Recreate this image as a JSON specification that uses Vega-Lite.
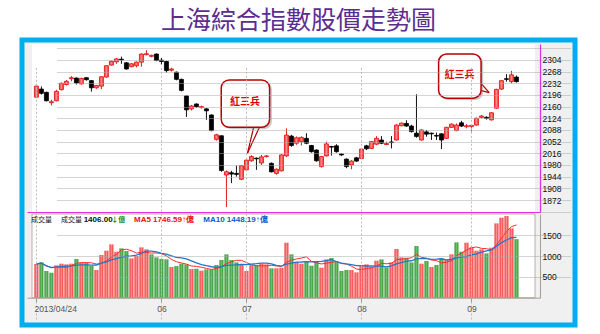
{
  "$schema": "https://vega.github.io/schema/vega-lite/v6.json",
  "width": 553,
  "height": 285,
  "autosize": {"type": "none"},
  "padding": {"left": 22, "top": 40, "right": 25, "bottom": 9},
  "background": "white",
  "title": {"text": "上海綜合指數股價走勢圖", "font": "Noto Sans CJK TC", "fontSize": 25, "fontWeight": "normal", "color": "#5b2d90", "anchor": "middle", "offset": 6},
  "config": {
    "view": {"fill": "#f0f0f0", "stroke": "#00aeef", "strokeWidth": 5},
    "axis": {"labelOverlap": false, "labelBound": false, "labelFlush": false}
  },
  "datasets": {
    "k": [
      {"d": "2013-04-24", "o": 2189, "h": 2230, "l": 2186, "c": 2223, "v": 809},
      {"d": "2013-04-25", "o": 2214, "h": 2222, "l": 2197, "c": 2201, "v": 849},
      {"d": "2013-04-26", "o": 2204, "h": 2206, "l": 2176, "c": 2178, "v": 641},
      {"d": "2013-05-02", "o": 2172, "h": 2181, "l": 2164, "c": 2175, "v": 600},
      {"d": "2013-05-03", "o": 2178, "h": 2212, "l": 2176, "c": 2207, "v": 778},
      {"d": "2013-05-06", "o": 2212, "h": 2234, "l": 2210, "c": 2232, "v": 817},
      {"d": "2013-05-07", "o": 2228, "h": 2242, "l": 2225, "c": 2238, "v": 801},
      {"d": "2013-05-08", "o": 2246, "h": 2254, "l": 2238, "c": 2249, "v": 817},
      {"d": "2013-05-09", "o": 2248, "h": 2250, "l": 2228, "c": 2233, "v": 929},
      {"d": "2013-05-10", "o": 2230, "h": 2249, "l": 2228, "c": 2247, "v": 841},
      {"d": "2013-05-13", "o": 2249, "h": 2251, "l": 2240, "c": 2243, "v": 833},
      {"d": "2013-05-14", "o": 2240, "h": 2242, "l": 2206, "c": 2218, "v": 769},
      {"d": "2013-05-15", "o": 2218, "h": 2227, "l": 2215, "c": 2225, "v": 665},
      {"d": "2013-05-16", "o": 2223, "h": 2254, "l": 2214, "c": 2252, "v": 1025},
      {"d": "2013-05-17", "o": 2251, "h": 2288, "l": 2249, "c": 2286, "v": 1129},
      {"d": "2013-05-20", "o": 2288, "h": 2302, "l": 2286, "c": 2300, "v": 1281},
      {"d": "2013-05-21", "o": 2298, "h": 2310, "l": 2292, "c": 2307, "v": 1105},
      {"d": "2013-05-22", "o": 2306, "h": 2314, "l": 2292, "c": 2304, "v": 1185},
      {"d": "2013-05-23", "o": 2295, "h": 2297, "l": 2274, "c": 2276, "v": 1121},
      {"d": "2013-05-24", "o": 2283, "h": 2294, "l": 2281, "c": 2292, "v": 945},
      {"d": "2013-05-27", "o": 2286, "h": 2299, "l": 2281, "c": 2297, "v": 1001},
      {"d": "2013-05-28", "o": 2297, "h": 2324, "l": 2283, "c": 2322, "v": 1209},
      {"d": "2013-05-29", "o": 2320, "h": 2334, "l": 2318, "c": 2323, "v": 1161},
      {"d": "2013-05-30", "o": 2315, "h": 2320, "l": 2312, "c": 2318, "v": 1041},
      {"d": "2013-05-31", "o": 2322, "h": 2324, "l": 2300, "c": 2302, "v": 969},
      {"d": "2013-06-03", "o": 2303, "h": 2310, "l": 2290, "c": 2299, "v": 929},
      {"d": "2013-06-04", "o": 2299, "h": 2301, "l": 2265, "c": 2271, "v": 921},
      {"d": "2013-06-05", "o": 2272, "h": 2280, "l": 2268, "c": 2276, "v": 737},
      {"d": "2013-06-06", "o": 2266, "h": 2268, "l": 2241, "c": 2244, "v": 761},
      {"d": "2013-06-07", "o": 2244, "h": 2246, "l": 2207, "c": 2210, "v": 817},
      {"d": "2013-06-13", "o": 2193, "h": 2195, "l": 2128, "c": 2150, "v": 801},
      {"d": "2013-06-14", "o": 2153, "h": 2165, "l": 2148, "c": 2162, "v": 689},
      {"d": "2013-06-17", "o": 2168, "h": 2170, "l": 2156, "c": 2160, "v": 697},
      {"d": "2013-06-18", "o": 2157, "h": 2163, "l": 2154, "c": 2160, "v": 649},
      {"d": "2013-06-19", "o": 2153, "h": 2155, "l": 2119, "c": 2147, "v": 681},
      {"d": "2013-06-20", "o": 2134, "h": 2136, "l": 2084, "c": 2086, "v": 681},
      {"d": "2013-06-21", "o": 2059, "h": 2076, "l": 2055, "c": 2073, "v": 785},
      {"d": "2013-06-24", "o": 2070, "h": 2071, "l": 1959, "c": 1963, "v": 905},
      {"d": "2013-06-25", "o": 1949, "h": 1963, "l": 1850, "c": 1959, "v": 1041},
      {"d": "2013-06-26", "o": 1956, "h": 1962, "l": 1924, "c": 1952, "v": 905},
      {"d": "2013-06-27", "o": 1954, "h": 1978, "l": 1944, "c": 1951, "v": 849},
      {"d": "2013-06-28", "o": 1936, "h": 1980, "l": 1933, "c": 1978, "v": 785},
      {"d": "2013-07-01", "o": 1965, "h": 1997, "l": 1962, "c": 1995, "v": 641},
      {"d": "2013-07-02", "o": 1993, "h": 2010, "l": 1990, "c": 2006, "v": 785},
      {"d": "2013-07-03", "o": 2001, "h": 2003, "l": 1965, "c": 1999, "v": 785},
      {"d": "2013-07-04", "o": 1986, "h": 2011, "l": 1980, "c": 2005, "v": 817},
      {"d": "2013-07-05", "o": 2006, "h": 2010, "l": 2003, "c": 2008, "v": 801},
      {"d": "2013-07-08", "o": 1985, "h": 1988, "l": 1957, "c": 1959, "v": 705},
      {"d": "2013-07-09", "o": 1954, "h": 1969, "l": 1950, "c": 1967, "v": 705},
      {"d": "2013-07-10", "o": 1962, "h": 2013, "l": 1960, "c": 2011, "v": 721},
      {"d": "2013-07-11", "o": 2008, "h": 2093, "l": 2005, "c": 2072, "v": 1321},
      {"d": "2013-07-12", "o": 2069, "h": 2073, "l": 2036, "c": 2040, "v": 1041},
      {"d": "2013-07-15", "o": 2047, "h": 2068, "l": 2042, "c": 2064, "v": 860},
      {"d": "2013-07-16", "o": 2052, "h": 2068, "l": 2040, "c": 2065, "v": 817},
      {"d": "2013-07-17", "o": 2062, "h": 2078, "l": 2044, "c": 2047, "v": 865},
      {"d": "2013-07-18", "o": 2040, "h": 2042, "l": 2018, "c": 2021, "v": 769},
      {"d": "2013-07-19", "o": 2026, "h": 2028, "l": 1990, "c": 1993, "v": 881},
      {"d": "2013-07-22", "o": 1975, "h": 2008, "l": 1972, "c": 2006, "v": 721},
      {"d": "2013-07-23", "o": 2008, "h": 2052, "l": 2006, "c": 2045, "v": 921},
      {"d": "2013-07-24", "o": 2037, "h": 2039, "l": 2009, "c": 2035, "v": 953},
      {"d": "2013-07-25", "o": 2039, "h": 2044, "l": 2018, "c": 2021, "v": 865},
      {"d": "2013-07-26", "o": 2014, "h": 2016, "l": 2008, "c": 2011, "v": 641},
      {"d": "2013-07-29", "o": 1998, "h": 2000, "l": 1970, "c": 1975, "v": 665},
      {"d": "2013-07-30", "o": 1980, "h": 1995, "l": 1967, "c": 1992, "v": 665},
      {"d": "2013-07-31", "o": 2002, "h": 2005, "l": 1990, "c": 1992, "v": 609},
      {"d": "2013-08-01", "o": 2000, "h": 2031, "l": 1998, "c": 2029, "v": 769},
      {"d": "2013-08-02", "o": 2039, "h": 2042, "l": 2026, "c": 2030, "v": 801},
      {"d": "2013-08-05", "o": 2031, "h": 2054, "l": 2029, "c": 2052, "v": 737},
      {"d": "2013-08-06", "o": 2044, "h": 2069, "l": 2041, "c": 2062, "v": 889},
      {"d": "2013-08-07", "o": 2057, "h": 2069, "l": 2044, "c": 2047, "v": 921},
      {"d": "2013-08-08", "o": 2043, "h": 2052, "l": 2041, "c": 2046, "v": 729},
      {"d": "2013-08-09", "o": 2051, "h": 2069, "l": 2031, "c": 2049, "v": 849},
      {"d": "2013-08-12", "o": 2057, "h": 2106, "l": 2055, "c": 2103, "v": 1169},
      {"d": "2013-08-13", "o": 2101, "h": 2111, "l": 2099, "c": 2109, "v": 969},
      {"d": "2013-08-14", "o": 2108, "h": 2118, "l": 2098, "c": 2100, "v": 961},
      {"d": "2013-08-15", "o": 2100, "h": 2104, "l": 2080, "c": 2083, "v": 849},
      {"d": "2013-08-16", "o": 2078, "h": 2198, "l": 2064, "c": 2068, "v": 1241},
      {"d": "2013-08-19", "o": 2057, "h": 2090, "l": 2055, "c": 2088, "v": 817},
      {"d": "2013-08-20", "o": 2082, "h": 2088, "l": 2067, "c": 2075, "v": 881},
      {"d": "2013-08-21", "o": 2078, "h": 2080, "l": 2057, "c": 2076, "v": 737},
      {"d": "2013-08-22", "o": 2071, "h": 2080, "l": 2057, "c": 2069, "v": 785},
      {"d": "2013-08-23", "o": 2076, "h": 2078, "l": 2029, "c": 2057, "v": 945},
      {"d": "2013-08-26", "o": 2062, "h": 2098, "l": 2060, "c": 2096, "v": 921},
      {"d": "2013-08-27", "o": 2096, "h": 2108, "l": 2094, "c": 2106, "v": 1041},
      {"d": "2013-08-28", "o": 2086, "h": 2108, "l": 2084, "c": 2103, "v": 1329},
      {"d": "2013-08-29", "o": 2110, "h": 2116, "l": 2097, "c": 2100, "v": 1105},
      {"d": "2013-08-30", "o": 2098, "h": 2106, "l": 2093, "c": 2101, "v": 1321},
      {"d": "2013-09-02", "o": 2099, "h": 2104, "l": 2083, "c": 2102, "v": 1209},
      {"d": "2013-09-03", "o": 2103, "h": 2126, "l": 2101, "c": 2124, "v": 1129},
      {"d": "2013-09-04", "o": 2127, "h": 2134, "l": 2124, "c": 2131, "v": 1161},
      {"d": "2013-09-05", "o": 2127, "h": 2130, "l": 2120, "c": 2124, "v": 1065},
      {"d": "2013-09-06", "o": 2119, "h": 2143, "l": 2117, "c": 2141, "v": 1201},
      {"d": "2013-09-09", "o": 2155, "h": 2215, "l": 2153, "c": 2213, "v": 1785},
      {"d": "2013-09-10", "o": 2214, "h": 2242, "l": 2211, "c": 2240, "v": 1921},
      {"d": "2013-09-11", "o": 2246, "h": 2260, "l": 2237, "c": 2244, "v": 1961},
      {"d": "2013-09-12", "o": 2237, "h": 2270, "l": 2232, "c": 2258, "v": 1665},
      {"d": "2013-09-13", "o": 2251, "h": 2256, "l": 2234, "c": 2237, "v": 1406}
    ]
  },
  "resolve": {"scale": {"y": "independent"}, "axis": {"x": "independent", "y": "independent"}},
  "layer": [
    {
      "data": {"name": "k"},
      "transform": [{"window": [{"op": "row_number", "as": "n"}]}],
      "layer": [
        {
          "data": {"values": [{}]},
          "mark": {"type": "rect", "fill": "white"},
          "encoding": {
            "x": {"datum": 0.1176, "type": "quantitative"},
            "x2": {"datum": 100.706},
            "y": {"datum": 1835, "type": "quantitative"},
            "y2": {"datum": 2353}
          }
        },
        {
          "mark": {"type": "rule", "strokeWidth": 1},
          "encoding": {
            "x": {"field": "n", "type": "quantitative", "title": null,
              "scale": {"domain": [0.1176, 100.706], "range": [5, 518], "nice": false, "zero": false},
              "axis": {"orient": "bottom", "offset": -113, "values": [1, 26, 43, 66, 88], "tickCount": 20, "labels": false, "ticks": false, "grid": true, "gridColor": "#bcbcbc", "gridDash": [2, 2], "domain": true, "domainColor": "#e030e0", "domainWidth": 1.2, "title": null, "zindex": 1}},
            "y": {"field": "l", "type": "quantitative", "title": null,
              "scale": {"domain": [1835, 2353], "range": [172, 4], "nice": false, "zero": false},
              "axis": {"orient": "right", "offset": -35, "values": [1836, 1872, 1908, 1944, 1980, 2016, 2052, 2088, 2124, 2160, 2196, 2232, 2268, 2304, 2340], "tickCount": 30, "format": "d", "labelExpr": "datum.value >= 1870 && datum.value <= 2310 ? datum.label : ''", "grid": true, "gridColor": "#a8a8a8", "gridDash": [1, 1], "domain": true, "domainColor": "#e030e0", "domainWidth": 1.2, "ticks": false, "labelPadding": 2, "labelFont": "Liberation Sans", "labelFontSize": 8.5, "labelColor": "#111", "labelOverlap": false, "labelFlush": false, "labelBound": false, "title": null, "zindex": 1}},
            "y2": {"field": "h"},
            "color": {"condition": {"test": "datum.c >= datum.o", "value": "#e81818"}, "value": "#111111"}
          }
        },
        {
          "mark": {"type": "bar", "size": 4, "strokeWidth": 0.8},
          "encoding": {
            "x": {"field": "n", "type": "quantitative", "title": null},
            "y": {"field": "o", "type": "quantitative", "title": null},
            "y2": {"field": "c"},
            "fill": {"condition": {"test": "datum.c >= datum.o", "value": {"x1": 0, "x2": 1, "y1": 0, "y2": 0, "gradient": "linear", "stops": [{"offset": 0, "color": "#f03030"}, {"offset": 0.5, "color": "#ff8a8a"}, {"offset": 1, "color": "#f03030"}]}}, "value": "#000000"},
            "stroke": {"condition": {"test": "datum.c >= datum.o", "value": "#e01010"}, "value": "#000000"}
          }
        },
        {
          "data": {"values": [{}]},
          "mark": {"type": "rule", "color": "#b00000", "strokeWidth": 1.2},
          "encoding": {"x": {"datum": 44.49, "type": "quantitative"}, "y": {"datum": 2099, "type": "quantitative"}, "x2": {"datum": 43.2}, "y2": {"datum": 2016}}
        },
        {
          "data": {"values": [{}]},
          "mark": {"type": "rule", "color": "#b00000", "strokeWidth": 1.2},
          "encoding": {"x": {"datum": 45.67, "type": "quantitative"}, "y": {"datum": 2099, "type": "quantitative"}, "x2": {"datum": 43.2}, "y2": {"datum": 2016}}
        },
        {
          "data": {"values": [{}]},
          "mark": {"type": "rule", "color": "#b00000", "strokeWidth": 1.2},
          "encoding": {"x": {"datum": 89.6, "type": "quantitative"}, "y": {"datum": 2237, "type": "quantitative"}, "x2": {"datum": 91.55}, "y2": {"datum": 2203}}
        },
        {
          "data": {"values": [{}]},
          "mark": {"type": "rule", "color": "#b00000", "strokeWidth": 1.2},
          "encoding": {"x": {"datum": 89.6, "type": "quantitative"}, "y": {"datum": 2211, "type": "quantitative"}, "x2": {"datum": 91.55}, "y2": {"datum": 2203}}
        },
        {
          "data": {"values": [{}]},
          "mark": {"type": "rect", "fill": "#8a8a8a", "opacity": 0.45, "cornerRadius": 8},
          "encoding": {"x": {"datum": 38.4, "type": "quantitative"}, "x2": {"datum": 48.1}, "y": {"datum": 2090, "type": "quantitative"}, "y2": {"datum": 2236}}
        },
        {
          "data": {"values": [{}]},
          "mark": {"type": "rect", "fill": "white", "stroke": "#b80000", "strokeWidth": 1.5, "cornerRadius": 8},
          "encoding": {"x": {"datum": 37.96, "type": "quantitative"}, "x2": {"datum": 47.63}, "y": {"datum": 2096, "type": "quantitative"}, "y2": {"datum": 2242}}
        },
        {
          "data": {"values": [{}]},
          "mark": {"type": "rect", "fill": "#8a8a8a", "opacity": 0.45, "cornerRadius": 8},
          "encoding": {"x": {"datum": 81.85, "type": "quantitative"}, "x2": {"datum": 90.35}, "y": {"datum": 2180, "type": "quantitative"}, "y2": {"datum": 2316}}
        },
        {
          "data": {"values": [{}]},
          "mark": {"type": "rect", "fill": "white", "stroke": "#b80000", "strokeWidth": 1.5, "cornerRadius": 8},
          "encoding": {"x": {"datum": 81.43, "type": "quantitative"}, "x2": {"datum": 89.92}, "y": {"datum": 2186, "type": "quantitative"}, "y2": {"datum": 2322}}
        },
        {
          "data": {"values": [{}]},
          "mark": {"type": "text", "text": "紅三兵", "font": "Noto Sans CJK TC", "fontSize": 10, "fontWeight": "bold", "color": "#e00000", "align": "center", "baseline": "middle"},
          "encoding": {"x": {"datum": 42.7, "type": "quantitative"}, "y": {"datum": 2173, "type": "quantitative"}}
        },
        {
          "data": {"values": [{}]},
          "mark": {"type": "text", "text": "紅三兵", "font": "Noto Sans CJK TC", "fontSize": 10, "fontWeight": "bold", "color": "#e00000", "align": "center", "baseline": "middle"},
          "encoding": {"x": {"datum": 85.6, "type": "quantitative"}, "y": {"datum": 2258, "type": "quantitative"}}
        }
      ]
    },
    {
      "data": {"name": "k"},
      "transform": [
        {"window": [{"op": "row_number", "as": "n"}, {"op": "lag", "field": "c", "as": "pc"}]}
      ],
      "layer": [
        {
          "data": {"values": [{}]},
          "mark": {"type": "rect", "fill": "white", "stroke": "#b8b0a8", "strokeWidth": 1},
          "encoding": {
            "x": {"datum": 0.1176, "type": "quantitative"},
            "x2": {"datum": 100.706},
            "y": {"datum": 0, "type": "quantitative"},
            "y2": {"datum": 2010}
          }
        },
        {
          "mark": {"type": "bar", "size": 4},
          "encoding": {
            "x": {"field": "n", "type": "quantitative", "title": null,
              "scale": {"domain": [0.1176, 100.706], "range": [5, 518], "nice": false, "zero": false},
              "axis": {"orient": "bottom", "offset": -27.3, "values": [1, 26, 43, 66, 88], "tickCount": 20, "labelExpr": "datum.value == 1 ? '2013/04/24' : datum.value == 26 ? '06' : datum.value == 43 ? '07' : datum.value == 66 ? '08' : '09'", "labelAlign": {"condition": {"test": "datum.value == 1", "value": "left"}, "value": "center"}, "labelOffset": {"condition": {"test": "datum.value == 1", "value": -2.5}, "value": 0}, "labelFlush": false, "labelOverlap": false, "ticks": true, "tickSize": 4, "tickColor": "#999999", "labelPadding": 3, "labelFont": "Liberation Sans", "labelFontSize": 8.5, "labelColor": "#555555", "grid": true, "gridColor": "#bcbcbc", "gridDash": [2, 2], "domain": true, "domainColor": "#a89c90", "title": null, "zindex": 1}},
            "y": {"field": "v", "type": "quantitative", "title": null,
              "scale": {"domain": [0, 2010], "range": [257.7, 174], "nice": false, "zero": false},
              "axis": {"orient": "right", "offset": -35, "values": [500, 1000, 1500], "tickCount": 20, "format": "d", "grid": true, "gridColor": "#a8a8a8", "gridDash": [1, 1], "domain": true, "domainColor": "#a89c90", "ticks": false, "labelPadding": 2, "labelFont": "Liberation Sans", "labelFontSize": 8.5, "labelColor": "#111", "labelOverlap": false, "labelFlush": false, "title": null, "zindex": 1}},
            "fill": {"condition": {"test": "datum.pc == null || datum.c >= datum.pc", "value": {"x1": 0, "x2": 1, "y1": 0, "y2": 0, "gradient": "linear", "stops": [{"offset": 0, "color": "#f03030"}, {"offset": 0.5, "color": "#ff8c8c"}, {"offset": 1, "color": "#f03030"}]}}, "value": {"x1": 0, "x2": 1, "y1": 0, "y2": 0, "gradient": "linear", "stops": [{"offset": 0, "color": "#2f8f2f"}, {"offset": 0.5, "color": "#6cc06c"}, {"offset": 1, "color": "#2f8f2f"}]}}
          }
        },
        {
          "transform": [{"window": [{"op": "mean", "field": "v", "as": "ma5"}], "frame": [-4, 0], "sort": [{"field": "n"}]}],
          "mark": {"type": "line", "color": "#ff2a2a", "strokeWidth": 1},
          "encoding": {
            "x": {"field": "n", "type": "quantitative", "title": null},
            "y": {"field": "ma5", "type": "quantitative", "title": null}
          }
        },
        {
          "transform": [{"window": [{"op": "mean", "field": "v", "as": "ma10"}], "frame": [-9, 0], "sort": [{"field": "n"}]}],
          "mark": {"type": "line", "color": "#1f78c8", "strokeWidth": 1.3},
          "encoding": {
            "x": {"field": "n", "type": "quantitative", "title": null},
            "y": {"field": "ma10", "type": "quantitative", "title": null}
          }
        },
        {
          "data": {"values": [{}]},
          "mark": {"type": "text", "text": "成交量", "font": "Noto Sans CJK TC", "fontSize": 7, "color": "#111", "align": "left", "baseline": "middle"},
          "encoding": {"x": {"datum": -0.08, "type": "quantitative"}, "y": {"datum": 1866, "type": "quantitative"}}
        },
        {
          "data": {"values": [{}]},
          "mark": {"type": "text", "text": "成交量", "font": "Noto Sans CJK TC", "fontSize": 7, "color": "#111", "align": "left", "baseline": "middle"},
          "encoding": {"x": {"datum": 5.94, "type": "quantitative"}, "y": {"datum": 1866, "type": "quantitative"}}
        },
        {
          "data": {"values": [{}]},
          "mark": {"type": "text", "text": "1406.00", "font": "Liberation Sans", "fontSize": 8, "fontWeight": "bold", "color": "#111", "align": "left", "baseline": "middle"},
          "encoding": {"x": {"datum": 10.45, "type": "quantitative"}, "y": {"datum": 1866, "type": "quantitative"}}
        },
        {
          "data": {"values": [{}]},
          "mark": {"type": "text", "text": "↓億", "font": "Noto Sans CJK TC", "fontSize": 7, "fontWeight": "bold", "color": "#108a10", "align": "left", "baseline": "middle"},
          "encoding": {"x": {"datum": 15.95, "type": "quantitative"}, "y": {"datum": 1866, "type": "quantitative"}}
        },
        {
          "data": {"values": [{}]},
          "mark": {"type": "text", "text": "MA5 1746.59↑億", "font": "Liberation Sans", "fontSize": 8, "fontWeight": "bold", "color": "#f01010", "align": "left", "baseline": "middle"},
          "encoding": {"x": {"datum": 20.51, "type": "quantitative"}, "y": {"datum": 1866, "type": "quantitative"}}
        },
        {
          "data": {"values": [{}]},
          "mark": {"type": "text", "text": "MA10 1448.19↑億", "font": "Liberation Sans", "fontSize": 8, "fontWeight": "bold", "color": "#1060c0", "align": "left", "baseline": "middle"},
          "encoding": {"x": {"datum": 34.37, "type": "quantitative"}, "y": {"datum": 1866, "type": "quantitative"}}
        }
      ]
    }
  ]
}
